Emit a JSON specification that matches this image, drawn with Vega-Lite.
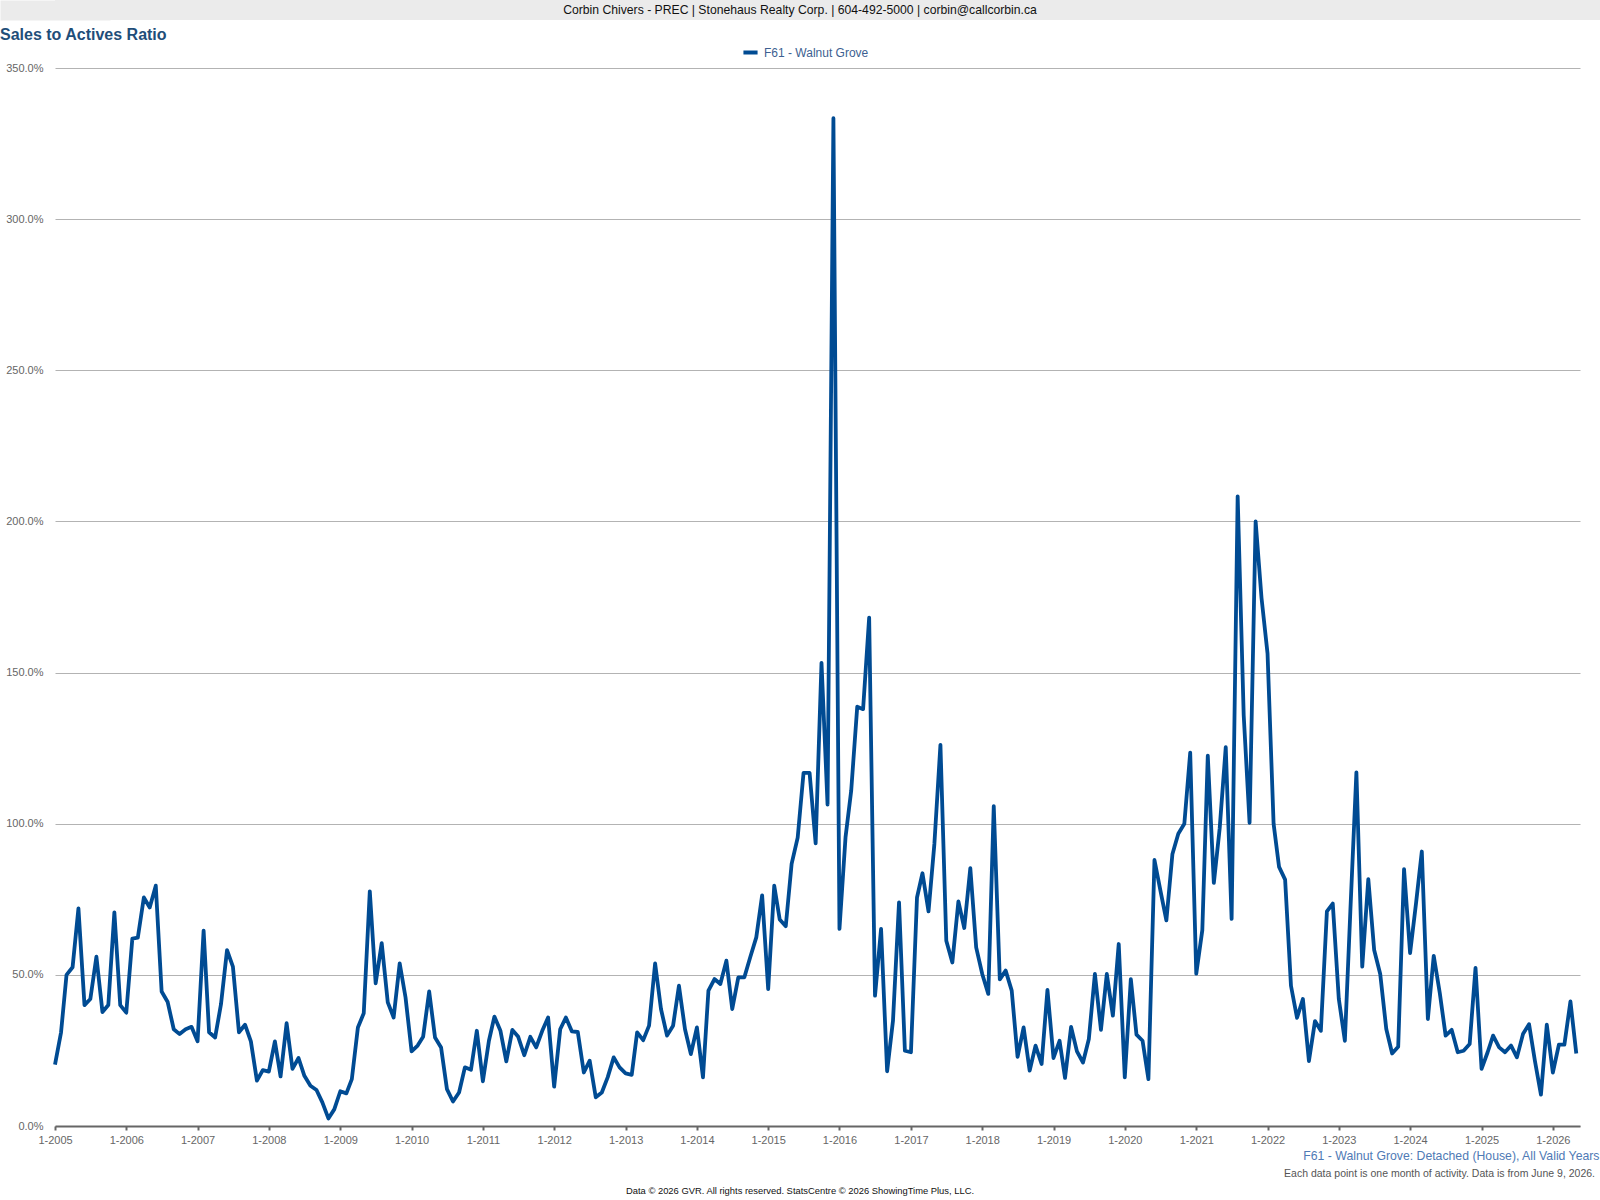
{
  "$schema": "https://vega.github.io/schema/vega-lite/v6.json",
  "background": "white",
  "padding": 0,
  "spacing": 7,
  "columns": 1,
  "align": "none",
  "bounds": "full",
  "resolve": {"legend": {"color": "independent"}},
  "config": {
    "font": "Liberation Sans",
    "view": {"stroke": null}
  },
  "concat": [
    {
      "width": 1545,
      "height": 20,
      "view": {"fill": "#ebebeb", "stroke": null},
      "data": {"values": [{"t": "Corbin Chivers - PREC | Stonehaus Realty Corp. | 604-492-5000 | corbin@callcorbin.ca"}]},
      "mark": {"type": "text", "fontSize": 12.2, "color": "#111111", "baseline": "middle", "dx": -27.5},
      "encoding": {
        "y": {
          "field": "t",
          "type": "nominal",
          "scale": {"type": "point", "padding": 0.5},
          "axis": {
            "title": null,
            "labels": false,
            "ticks": false,
            "grid": false,
            "domainColor": "#ebebeb",
            "domainWidth": 110,
            "minExtent": 0
          }
        },
        "text": {"field": "t"}
      }
    },
    {
      "width": 1525,
      "height": 1058,
      "title": {
        "text": "Sales to Actives Ratio",
        "anchor": "start",
        "frame": "bounds",
        "fontSize": 16,
        "fontWeight": "bold",
        "color": "#1f4e79",
        "offset": 0
      },
      "data": {"values": [
        {"month": "2005-01-01", "ratio": 20.3}, {"month": "2005-02-01", "ratio": 31}, {"month": "2005-03-01", "ratio": 50}, {"month": "2005-04-01", "ratio": 52.5},
        {"month": "2005-05-01", "ratio": 72}, {"month": "2005-06-01", "ratio": 40}, {"month": "2005-07-01", "ratio": 42}, {"month": "2005-08-01", "ratio": 56},
        {"month": "2005-09-01", "ratio": 37.7}, {"month": "2005-10-01", "ratio": 40}, {"month": "2005-11-01", "ratio": 70.7}, {"month": "2005-12-01", "ratio": 40},
        {"month": "2006-01-01", "ratio": 37.5}, {"month": "2006-02-01", "ratio": 62}, {"month": "2006-03-01", "ratio": 62.3}, {"month": "2006-04-01", "ratio": 75.6},
        {"month": "2006-05-01", "ratio": 72.3}, {"month": "2006-06-01", "ratio": 79.5}, {"month": "2006-07-01", "ratio": 44.5}, {"month": "2006-08-01", "ratio": 41},
        {"month": "2006-09-01", "ratio": 32}, {"month": "2006-10-01", "ratio": 30.4}, {"month": "2006-11-01", "ratio": 32}, {"month": "2006-12-01", "ratio": 32.8},
        {"month": "2007-01-01", "ratio": 28}, {"month": "2007-02-01", "ratio": 64.6}, {"month": "2007-03-01", "ratio": 31}, {"month": "2007-04-01", "ratio": 29.3},
        {"month": "2007-05-01", "ratio": 40.3}, {"month": "2007-06-01", "ratio": 58.2}, {"month": "2007-07-01", "ratio": 52.7}, {"month": "2007-08-01", "ratio": 31},
        {"month": "2007-09-01", "ratio": 33.5}, {"month": "2007-10-01", "ratio": 28}, {"month": "2007-11-01", "ratio": 15}, {"month": "2007-12-01", "ratio": 18.5},
        {"month": "2008-01-01", "ratio": 18}, {"month": "2008-02-01", "ratio": 28}, {"month": "2008-03-01", "ratio": 16.4}, {"month": "2008-04-01", "ratio": 34},
        {"month": "2008-05-01", "ratio": 18.9}, {"month": "2008-06-01", "ratio": 22.5}, {"month": "2008-07-01", "ratio": 16.6}, {"month": "2008-08-01", "ratio": 13.3},
        {"month": "2008-09-01", "ratio": 11.9}, {"month": "2008-10-01", "ratio": 7.8}, {"month": "2008-11-01", "ratio": 2.5}, {"month": "2008-12-01", "ratio": 5.5},
        {"month": "2009-01-01", "ratio": 11.5}, {"month": "2009-02-01", "ratio": 10.8}, {"month": "2009-03-01", "ratio": 15.5}, {"month": "2009-04-01", "ratio": 32.6},
        {"month": "2009-05-01", "ratio": 37.3}, {"month": "2009-06-01", "ratio": 77.6}, {"month": "2009-07-01", "ratio": 47.2}, {"month": "2009-08-01", "ratio": 60.5},
        {"month": "2009-09-01", "ratio": 40.9}, {"month": "2009-10-01", "ratio": 35.9}, {"month": "2009-11-01", "ratio": 53.8}, {"month": "2009-12-01", "ratio": 42.5},
        {"month": "2010-01-01", "ratio": 24.7}, {"month": "2010-02-01", "ratio": 26.6}, {"month": "2010-03-01", "ratio": 29.5}, {"month": "2010-04-01", "ratio": 44.5},
        {"month": "2010-05-01", "ratio": 29.3}, {"month": "2010-06-01", "ratio": 26}, {"month": "2010-07-01", "ratio": 12.2}, {"month": "2010-08-01", "ratio": 8.1},
        {"month": "2010-09-01", "ratio": 11.1}, {"month": "2010-10-01", "ratio": 19.4}, {"month": "2010-11-01", "ratio": 18.6}, {"month": "2010-12-01", "ratio": 31.5},
        {"month": "2011-01-01", "ratio": 14.8}, {"month": "2011-02-01", "ratio": 28.2}, {"month": "2011-03-01", "ratio": 36.2}, {"month": "2011-04-01", "ratio": 31.5},
        {"month": "2011-05-01", "ratio": 21.4}, {"month": "2011-06-01", "ratio": 31.8}, {"month": "2011-07-01", "ratio": 29.5}, {"month": "2011-08-01", "ratio": 23.4},
        {"month": "2011-09-01", "ratio": 29.5}, {"month": "2011-10-01", "ratio": 26}, {"month": "2011-11-01", "ratio": 31.5}, {"month": "2011-12-01", "ratio": 35.9},
        {"month": "2012-01-01", "ratio": 13}, {"month": "2012-02-01", "ratio": 32}, {"month": "2012-03-01", "ratio": 35.9}, {"month": "2012-04-01", "ratio": 31.3},
        {"month": "2012-05-01", "ratio": 31.1}, {"month": "2012-06-01", "ratio": 17.7}, {"month": "2012-07-01", "ratio": 21.6}, {"month": "2012-08-01", "ratio": 9.5},
        {"month": "2012-09-01", "ratio": 11.1}, {"month": "2012-10-01", "ratio": 16.1}, {"month": "2012-11-01", "ratio": 22.7}, {"month": "2012-12-01", "ratio": 19.4},
        {"month": "2013-01-01", "ratio": 17.4}, {"month": "2013-02-01", "ratio": 16.9}, {"month": "2013-03-01", "ratio": 31}, {"month": "2013-04-01", "ratio": 28.4},
        {"month": "2013-05-01", "ratio": 33.2}, {"month": "2013-06-01", "ratio": 53.8}, {"month": "2013-07-01", "ratio": 38.7}, {"month": "2013-08-01", "ratio": 29.9},
        {"month": "2013-09-01", "ratio": 33.2}, {"month": "2013-10-01", "ratio": 46.4}, {"month": "2013-11-01", "ratio": 32}, {"month": "2013-12-01", "ratio": 23.8},
        {"month": "2014-01-01", "ratio": 32.6}, {"month": "2014-02-01", "ratio": 16.1}, {"month": "2014-03-01", "ratio": 44.8}, {"month": "2014-04-01", "ratio": 48.6},
        {"month": "2014-05-01", "ratio": 47}, {"month": "2014-06-01", "ratio": 54.7}, {"month": "2014-07-01", "ratio": 38.7}, {"month": "2014-08-01", "ratio": 49.2},
        {"month": "2014-09-01", "ratio": 49.2}, {"month": "2014-10-01", "ratio": 55.8}, {"month": "2014-11-01", "ratio": 62.4}, {"month": "2014-12-01", "ratio": 76.3},
        {"month": "2015-01-01", "ratio": 45.3}, {"month": "2015-02-01", "ratio": 79.5}, {"month": "2015-03-01", "ratio": 68.3}, {"month": "2015-04-01", "ratio": 66.1},
        {"month": "2015-05-01", "ratio": 86.7}, {"month": "2015-06-01", "ratio": 95.4}, {"month": "2015-07-01", "ratio": 116.8}, {"month": "2015-08-01", "ratio": 116.8},
        {"month": "2015-09-01", "ratio": 93.5}, {"month": "2015-10-01", "ratio": 153.2}, {"month": "2015-11-01", "ratio": 106.3}, {"month": "2015-12-01", "ratio": 333.4},
        {"month": "2016-01-01", "ratio": 65.2}, {"month": "2016-02-01", "ratio": 95.5}, {"month": "2016-03-01", "ratio": 110.9}, {"month": "2016-04-01", "ratio": 138.7},
        {"month": "2016-05-01", "ratio": 137.9}, {"month": "2016-06-01", "ratio": 168.2}, {"month": "2016-07-01", "ratio": 43.1}, {"month": "2016-08-01", "ratio": 65.2},
        {"month": "2016-09-01", "ratio": 18.1}, {"month": "2016-10-01", "ratio": 34.8}, {"month": "2016-11-01", "ratio": 74}, {"month": "2016-12-01", "ratio": 24.9},
        {"month": "2017-01-01", "ratio": 24.4}, {"month": "2017-02-01", "ratio": 75.6}, {"month": "2017-03-01", "ratio": 83.6}, {"month": "2017-04-01", "ratio": 71},
        {"month": "2017-05-01", "ratio": 93.3}, {"month": "2017-06-01", "ratio": 126.1}, {"month": "2017-07-01", "ratio": 61.3}, {"month": "2017-08-01", "ratio": 54.1},
        {"month": "2017-09-01", "ratio": 74.3}, {"month": "2017-10-01", "ratio": 65.5}, {"month": "2017-11-01", "ratio": 85.3}, {"month": "2017-12-01", "ratio": 59.1},
        {"month": "2018-01-01", "ratio": 50.3}, {"month": "2018-02-01", "ratio": 43.7}, {"month": "2018-03-01", "ratio": 105.8}, {"month": "2018-04-01", "ratio": 48.5},
        {"month": "2018-05-01", "ratio": 51.4}, {"month": "2018-06-01", "ratio": 44.8}, {"month": "2018-07-01", "ratio": 22.9}, {"month": "2018-08-01", "ratio": 32.6},
        {"month": "2018-09-01", "ratio": 18.3}, {"month": "2018-10-01", "ratio": 26.6}, {"month": "2018-11-01", "ratio": 20.5}, {"month": "2018-12-01", "ratio": 45},
        {"month": "2019-01-01", "ratio": 22.5}, {"month": "2019-02-01", "ratio": 28.2}, {"month": "2019-03-01", "ratio": 15.9}, {"month": "2019-04-01", "ratio": 32.8},
        {"month": "2019-05-01", "ratio": 24.7}, {"month": "2019-06-01", "ratio": 21}, {"month": "2019-07-01", "ratio": 28.8}, {"month": "2019-08-01", "ratio": 50.3},
        {"month": "2019-09-01", "ratio": 31.8}, {"month": "2019-10-01", "ratio": 50.3}, {"month": "2019-11-01", "ratio": 36.5}, {"month": "2019-12-01", "ratio": 60.2},
        {"month": "2020-01-01", "ratio": 16.1}, {"month": "2020-02-01", "ratio": 48.6}, {"month": "2020-03-01", "ratio": 30.2}, {"month": "2020-04-01", "ratio": 28.2},
        {"month": "2020-05-01", "ratio": 15.5}, {"month": "2020-06-01", "ratio": 88}, {"month": "2020-07-01", "ratio": 78}, {"month": "2020-08-01", "ratio": 68},
        {"month": "2020-09-01", "ratio": 90}, {"month": "2020-10-01", "ratio": 96.7}, {"month": "2020-11-01", "ratio": 100}, {"month": "2020-12-01", "ratio": 123.5},
        {"month": "2021-01-01", "ratio": 50.4}, {"month": "2021-02-01", "ratio": 64.8}, {"month": "2021-03-01", "ratio": 122.5}, {"month": "2021-04-01", "ratio": 80.4},
        {"month": "2021-05-01", "ratio": 98.5}, {"month": "2021-06-01", "ratio": 125.3}, {"month": "2021-07-01", "ratio": 68.5}, {"month": "2021-08-01", "ratio": 208.3},
        {"month": "2021-09-01", "ratio": 135.8}, {"month": "2021-10-01", "ratio": 100.3}, {"month": "2021-11-01", "ratio": 200}, {"month": "2021-12-01", "ratio": 174.8},
        {"month": "2022-01-01", "ratio": 156.3}, {"month": "2022-02-01", "ratio": 100}, {"month": "2022-03-01", "ratio": 85.7}, {"month": "2022-04-01", "ratio": 81.5},
        {"month": "2022-05-01", "ratio": 46.4}, {"month": "2022-06-01", "ratio": 35.8}, {"month": "2022-07-01", "ratio": 42}, {"month": "2022-08-01", "ratio": 21.5},
        {"month": "2022-09-01", "ratio": 34.7}, {"month": "2022-10-01", "ratio": 31.5}, {"month": "2022-11-01", "ratio": 71}, {"month": "2022-12-01", "ratio": 73.6},
        {"month": "2023-01-01", "ratio": 42}, {"month": "2023-02-01", "ratio": 28.2}, {"month": "2023-03-01", "ratio": 71}, {"month": "2023-04-01", "ratio": 117},
        {"month": "2023-05-01", "ratio": 52.7}, {"month": "2023-06-01", "ratio": 81.7}, {"month": "2023-07-01", "ratio": 58.2}, {"month": "2023-08-01", "ratio": 50.3},
        {"month": "2023-09-01", "ratio": 32.1}, {"month": "2023-10-01", "ratio": 24}, {"month": "2023-11-01", "ratio": 26.2}, {"month": "2023-12-01", "ratio": 85},
        {"month": "2024-01-01", "ratio": 57.2}, {"month": "2024-02-01", "ratio": 74}, {"month": "2024-03-01", "ratio": 90.8}, {"month": "2024-04-01", "ratio": 35.4},
        {"month": "2024-05-01", "ratio": 56.3}, {"month": "2024-06-01", "ratio": 44}, {"month": "2024-07-01", "ratio": 29.9}, {"month": "2024-08-01", "ratio": 31.8},
        {"month": "2024-09-01", "ratio": 24.4}, {"month": "2024-10-01", "ratio": 24.9}, {"month": "2024-11-01", "ratio": 27.1}, {"month": "2024-12-01", "ratio": 52.3},
        {"month": "2025-01-01", "ratio": 18.9}, {"month": "2025-02-01", "ratio": 24.4}, {"month": "2025-03-01", "ratio": 29.9}, {"month": "2025-04-01", "ratio": 26},
        {"month": "2025-05-01", "ratio": 24.4}, {"month": "2025-06-01", "ratio": 26.6}, {"month": "2025-07-01", "ratio": 22.7}, {"month": "2025-08-01", "ratio": 30.4},
        {"month": "2025-09-01", "ratio": 33.7}, {"month": "2025-10-01", "ratio": 21.6}, {"month": "2025-11-01", "ratio": 10.4}, {"month": "2025-12-01", "ratio": 33.5},
        {"month": "2026-01-01", "ratio": 17.7}, {"month": "2026-02-01", "ratio": 26.9}, {"month": "2026-03-01", "ratio": 26.9}, {"month": "2026-04-01", "ratio": 41.2},
        {"month": "2026-05-01", "ratio": 24}
      ]},
      "mark": {"type": "line", "strokeWidth": 3.8, "strokeJoin": "round"},
      "encoding": {
        "x": {
          "field": "month",
          "type": "temporal",
          "scale": {
            "type": "utc",
            "nice": false,
            "domain": [
              {"year": 2005, "month": 1, "date": 1, "utc": true},
              {"year": 2026, "month": 5, "date": 20, "utc": true}
            ]
          },
          "axis": {
            "title": "F61 - Walnut Grove: Detached (House), All Valid Years",
            "titleAnchor": "end",
            "titleAlign": "right",
            "titleX": 1544,
            "titleColor": "#4f7ab5",
            "titleFontSize": 12.25,
            "titleFontWeight": "normal",
            "titlePadding": 4,
            "tickCount": {"interval": "year", "step": 1},
            "labelExpr": "utcFormat(datum.value, '%-m-%Y')",
            "labelFlush": false,
            "labelOverlap": false,
            "grid": false,
            "domainColor": "#666666",
            "domainWidth": 2,
            "tickColor": "#666666",
            "tickWidth": 2,
            "tickSize": 4,
            "labelColor": "#666666",
            "labelFontSize": 11,
            "labelPadding": 4
          }
        },
        "y": {
          "field": "ratio",
          "type": "quantitative",
          "scale": {"domain": [0, 350], "nice": false},
          "axis": {
            "title": null,
            "values": [0, 50, 100, 150, 200, 250, 300, 350],
            "labelExpr": "format(datum.value, '.1f') + '%'",
            "domain": false,
            "ticks": false,
            "grid": true,
            "gridColor": "#b3b3b3",
            "gridWidth": 1,
            "labelColor": "#666666",
            "labelFontSize": 11,
            "labelPadding": 12,
            "minExtent": 55
          }
        },
        "color": {
          "datum": "F61 - Walnut Grove",
          "type": "nominal",
          "scale": {"range": ["#004b93"]},
          "legend": {
            "title": null,
            "orient": "none",
            "direction": "horizontal",
            "legendX": 686,
            "legendY": -25,
            "padding": 0,
            "symbolType": "stroke",
            "symbolSize": 200,
            "symbolStrokeWidth": 4,
            "labelFontSize": 12,
            "labelColor": "#3d5f91",
            "labelOffset": 4
          }
        }
      }
    },
    {
      "width": 1545,
      "height": 17,
      "data": {"values": [
        {"line": "b", "t": "Each data point is one month of activity. Data is from June 9, 2026."},
        {"line": "c", "t": "Data © 2026 GVR. All rights reserved. StatsCentre © 2026 ShowingTime Plus, LLC."}
      ]},
      "encoding": {
        "y": {"field": "line", "type": "ordinal", "scale": {"type": "point", "padding": 0}, "axis": null},
        "text": {"field": "t"}
      },
      "layer": [
        {
          "transform": [{"filter": "datum.line == 'b'"}],
          "mark": {"type": "text", "align": "right", "baseline": "middle", "dx": -5, "fontSize": 10.5, "color": "#555555"},
          "encoding": {"x": {"value": "width"}}
        },
        {
          "transform": [{"filter": "datum.line == 'c'"}],
          "mark": {"type": "text", "align": "center", "baseline": "middle", "fontSize": 9.4, "color": "#111111", "dx": -27.5}
        }
      ]
    }
  ]
}
